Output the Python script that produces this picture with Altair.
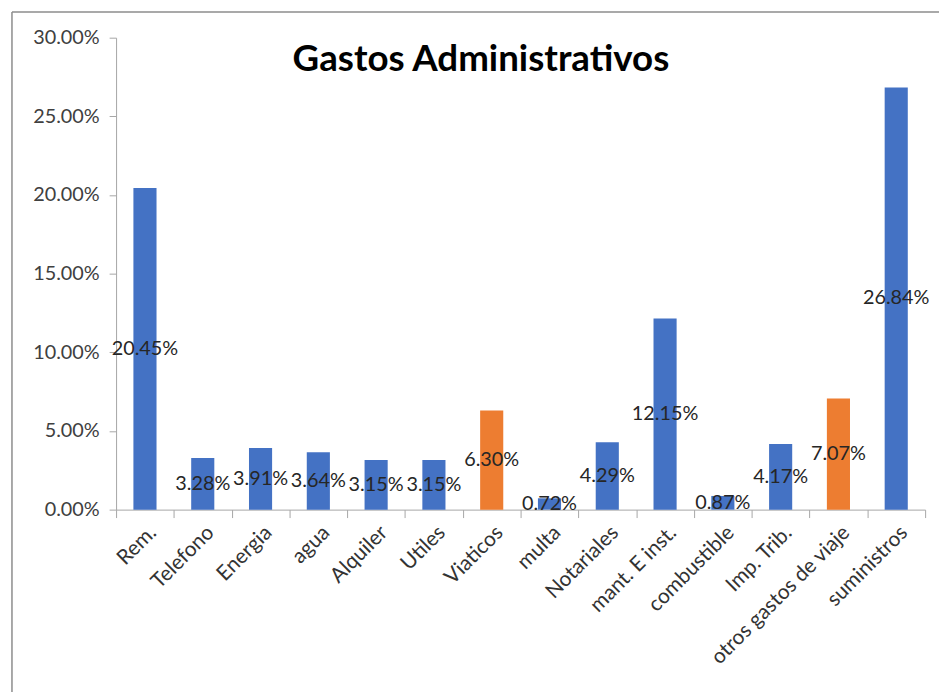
import altair as alt
import pandas as pd

categories = ["Rem.", "Telefono", "Energia", "agua", "Alquiler", "Utiles", "Viaticos",
              "multa", "Notariales", "mant. E inst.", "combustible", "Imp. Trib.",
              "otros gastos de viaje", "suministros"]
values = [0.2045, 0.0328, 0.0391, 0.0364, 0.0315, 0.0315, 0.0630,
          0.0072, 0.0429, 0.1215, 0.0087, 0.0417, 0.0707, 0.2684]
groups = ["a", "a", "a", "a", "a", "a", "b", "a", "a", "a", "a", "a", "b", "a"]
y_ticks = [0, 0.05, 0.10, 0.15, 0.20, 0.25, 0.30]

df = pd.DataFrame({"cat": categories, "val": values, "grp": groups})

FONT = "Lato"
W, H = 816, 476

x = alt.X("cat:N", sort=categories, title=None,
          scale=alt.Scale(paddingInner=0, paddingOuter=0),
          axis=alt.Axis(labelAngle=-45, labelFontSize=21, labelFont=FONT,
                        labelColor="#333333", domainColor="#a6a6a6",
                        tickColor="#a6a6a6", tickSize=8, tickBand="extent",
                        labelPadding=4, labelLimit=400))
y = alt.Y("val:Q", title=None,
          scale=alt.Scale(domain=[0, 0.30], nice=False),
          axis=alt.Axis(values=y_ticks, format=".2%", labelFontSize=20,
                        labelFont=FONT, labelColor="#404040", grid=False,
                        domainColor="#a6a6a6", tickColor="#a6a6a6",
                        tickSize=7, labelPadding=10))

bars = alt.Chart(df).mark_bar(width=alt.RelativeBandSize(0.4)).encode(
    x=x, y=y,
    color=alt.Color("grp:N", legend=None,
                    scale=alt.Scale(domain=["a", "b"], range=["#4472C4", "#ED7D31"])),
)

labels = alt.Chart(df).transform_calculate(mid="datum.val / 2").mark_text(
    font=FONT, fontSize=20, color="#262626", baseline="middle", align="center"
).encode(
    x=alt.X("cat:N", sort=categories),
    y=alt.Y("mid:Q"),
    text=alt.Text("val:Q", format=".2%"),
)

border_data = alt.Data(values=[{}])
left_border = alt.Chart(border_data).mark_rule(color="#8c8c8c", strokeWidth=1.5).encode(
    x=alt.value(-105), y=alt.value(-26), y2=alt.value(670))
top_border = alt.Chart(border_data).mark_rule(color="#8c8c8c", strokeWidth=1.5).encode(
    x=alt.value(-105), x2=alt.value(W + 20), y=alt.value(-26))

chart = alt.layer(left_border, top_border, bars, labels).properties(
    width=W, height=H,
    padding={"left": 109, "top": 27, "right": 14, "bottom": 181},
    autosize=alt.AutoSizeParams(type="none"),
    title=alt.TitleParams("Gastos Administrativos", font=FONT, fontSize=37,
                          fontWeight="bold", color="#000000", anchor="middle",
                          offset=-68, dx=-40),
).configure_view(stroke=None)

chart.save("out.html", embed_options={"renderer": "svg", "actions": False})
